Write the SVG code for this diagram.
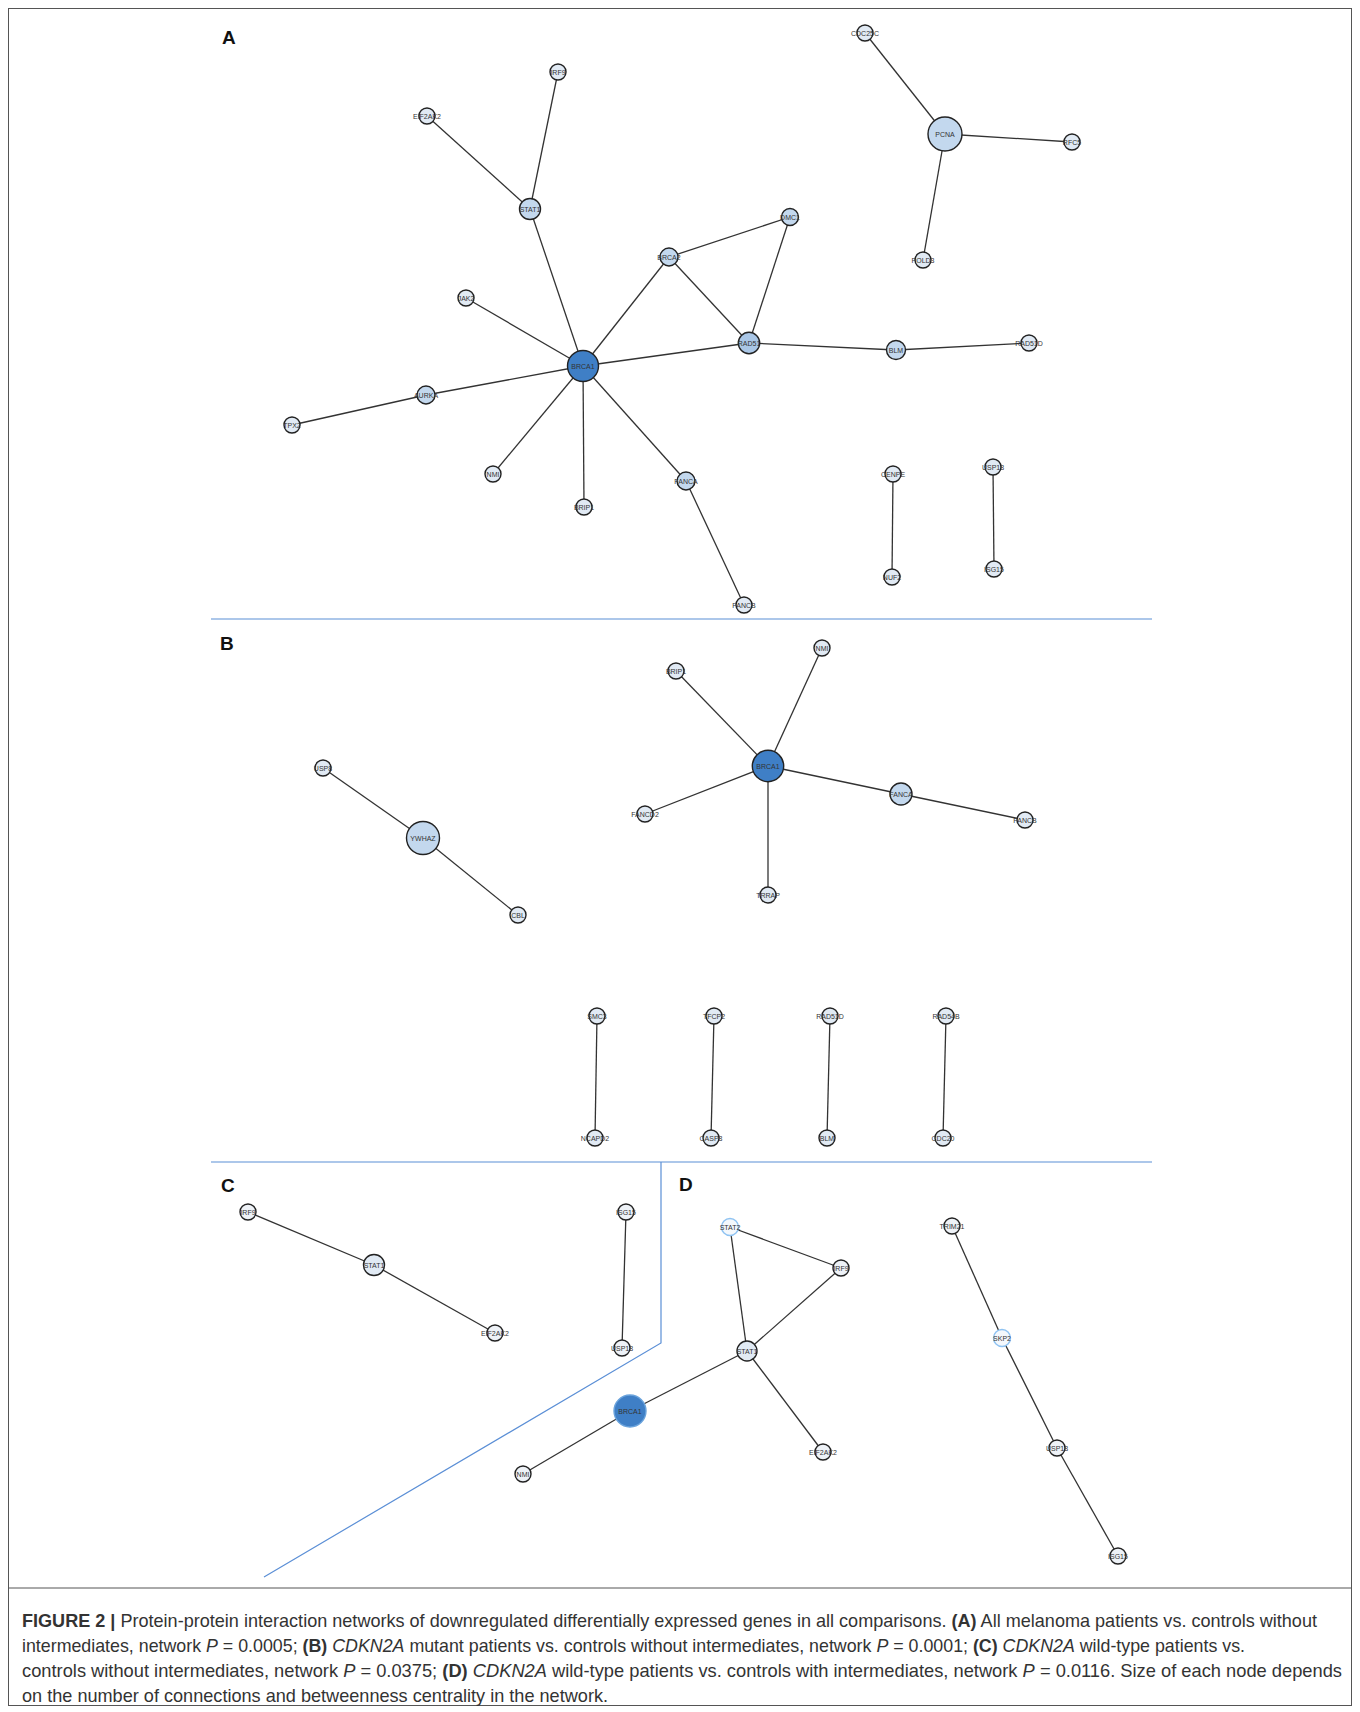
<svg xmlns="http://www.w3.org/2000/svg" width="1360" height="1712" viewBox="0 0 1360 1712">
<style>
.e{stroke:#333;stroke-width:1.3;fill:none}
.sep{stroke:#5b8fd6;stroke-width:1.2;fill:none}
circle{stroke:#222;stroke-width:1.4}
.s{fill:#e1eaf4}
.m{fill:#c3d8ee}
.r{fill:#a9c6e6}
.d{fill:#3f7fc6}
.w{fill:#eef2f7}
.lb{stroke:#8fc3f2;fill:#f4f8fc}
.dl{stroke:#6aa3dc}
.t{font-family:"Liberation Sans",Arial,sans-serif;font-size:7px;fill:#333;text-anchor:middle}
.P{font-family:"Liberation Sans",Arial,sans-serif;font-size:19px;font-weight:bold;fill:#111}
.c{font-family:"Liberation Sans",Arial,sans-serif;font-size:17.8px;fill:#333}
.b{font-weight:bold}
.i{font-style:italic}
</style>
<rect x="8.5" y="8.5" width="1343" height="1697" fill="#fff" stroke="#555" stroke-width="1"/>
<line x1="8.5" y1="1588" x2="1351.5" y2="1588" stroke="#555" stroke-width="1"/>
<g id="separators">
<line class="sep" x1="211" y1="619" x2="1152" y2="619"/>
<line class="sep" x1="211" y1="1162" x2="1152" y2="1162"/>
<polyline class="sep" points="661,1162 661,1343 264,1577"/>
</g>
<g id="panel-labels">
<text class="P" x="222" y="44">A</text>
<text class="P" x="220" y="650">B</text>
<text class="P" x="221" y="1192">C</text>
<text class="P" x="679" y="1191">D</text>
</g>
<g id="connectors">
<line class="e" x1="558" y1="72" x2="530" y2="209"/>
<line class="e" x1="427" y1="116" x2="530" y2="209"/>
<line class="e" x1="530" y1="209" x2="583" y2="366"/>
<line class="e" x1="669" y1="257" x2="790" y2="217"/>
<line class="e" x1="669" y1="257" x2="749" y2="343"/>
<line class="e" x1="790" y1="217" x2="749" y2="343"/>
<line class="e" x1="669" y1="257" x2="583" y2="366"/>
<line class="e" x1="466" y1="298" x2="583" y2="366"/>
<line class="e" x1="583" y1="366" x2="749" y2="343"/>
<line class="e" x1="749" y1="343" x2="896" y2="350"/>
<line class="e" x1="896" y1="350" x2="1029" y2="343"/>
<line class="e" x1="583" y1="366" x2="426" y2="395"/>
<line class="e" x1="426" y1="395" x2="292" y2="425"/>
<line class="e" x1="583" y1="366" x2="493" y2="474"/>
<line class="e" x1="583" y1="366" x2="584" y2="507"/>
<line class="e" x1="583" y1="366" x2="686" y2="481"/>
<line class="e" x1="686" y1="481" x2="744" y2="605"/>
<line class="e" x1="865" y1="33" x2="945" y2="134"/>
<line class="e" x1="945" y1="134" x2="1072" y2="142"/>
<line class="e" x1="945" y1="134" x2="923" y2="260"/>
<line class="e" x1="893" y1="474" x2="892" y2="577"/>
<line class="e" x1="993" y1="467" x2="994" y2="569"/>
<line class="e" x1="323" y1="768" x2="423" y2="838"/>
<line class="e" x1="423" y1="838" x2="518" y2="915"/>
<line class="e" x1="768" y1="766" x2="822" y2="648"/>
<line class="e" x1="768" y1="766" x2="676" y2="671"/>
<line class="e" x1="768" y1="766" x2="645" y2="814"/>
<line class="e" x1="768" y1="766" x2="901" y2="794"/>
<line class="e" x1="901" y1="794" x2="1025" y2="820"/>
<line class="e" x1="768" y1="766" x2="768" y2="895"/>
<line class="e" x1="597" y1="1016" x2="595" y2="1138"/>
<line class="e" x1="714" y1="1016" x2="711" y2="1138"/>
<line class="e" x1="830" y1="1016" x2="827" y2="1138"/>
<line class="e" x1="946" y1="1016" x2="943" y2="1138"/>
<line class="e" x1="248" y1="1212" x2="374" y2="1265"/>
<line class="e" x1="374" y1="1265" x2="495" y2="1333"/>
<line class="e" x1="626" y1="1212" x2="622" y2="1348"/>
<line class="e" x1="730" y1="1227" x2="841" y2="1268"/>
<line class="e" x1="730" y1="1227" x2="747" y2="1351"/>
<line class="e" x1="841" y1="1268" x2="747" y2="1351"/>
<line class="e" x1="747" y1="1351" x2="630" y2="1411"/>
<line class="e" x1="630" y1="1411" x2="523" y2="1474"/>
<line class="e" x1="747" y1="1351" x2="823" y2="1452"/>
<line class="e" x1="952" y1="1226" x2="1002" y2="1338"/>
<line class="e" x1="1002" y1="1338" x2="1057" y2="1448"/>
<line class="e" x1="1057" y1="1448" x2="1118" y2="1556"/>
</g>
<g id="A-IRF9"><circle class="s" cx="558" cy="72" r="8"/><text class="t" x="558" y="74.5">IRF9</text></g>
<g id="A-EIF2AK2"><circle class="s" cx="427" cy="116" r="8"/><text class="t" x="427" y="118.5">EIF2AK2</text></g>
<g id="A-STAT1"><circle class="m" cx="530" cy="209" r="10.5"/><text class="t" x="530" y="211.5">STAT1</text></g>
<g id="A-BRCA2"><circle class="m" cx="669" cy="257" r="9"/><text class="t" x="669" y="259.5">BRCA2</text></g>
<g id="A-DMC1"><circle class="m" cx="790" cy="217" r="8.5"/><text class="t" x="790" y="219.5">DMC1</text></g>
<g id="A-JAK2"><circle class="s" cx="466" cy="298" r="8"/><text class="t" x="466" y="300.5">JAK2</text></g>
<g id="A-BRCA1"><circle class="d" cx="583" cy="366" r="15.5"/><text class="t" x="583" y="368.5">BRCA1</text></g>
<g id="A-RAD51"><circle class="r" cx="749" cy="343" r="10.7"/><text class="t" x="749" y="345.5">RAD51</text></g>
<g id="A-BLM"><circle class="m" cx="896" cy="350" r="9.5"/><text class="t" x="896" y="352.5">BLM</text></g>
<g id="A-RAD51D"><circle class="s" cx="1029" cy="343" r="8"/><text class="t" x="1029" y="345.5">RAD51D</text></g>
<g id="A-AURKA"><circle class="m" cx="426" cy="395" r="9"/><text class="t" x="426" y="397.5">AURKA</text></g>
<g id="A-TPX2"><circle class="s" cx="292" cy="425" r="8"/><text class="t" x="292" y="427.5">TPX2</text></g>
<g id="A-NMI"><circle class="s" cx="493" cy="474" r="8"/><text class="t" x="493" y="476.5">NMI</text></g>
<g id="A-BRIP1"><circle class="s" cx="584" cy="507" r="8"/><text class="t" x="584" y="509.5">BRIP1</text></g>
<g id="A-FANCA"><circle class="m" cx="686" cy="481" r="9"/><text class="t" x="686" y="483.5">FANCA</text></g>
<g id="A-FANCB"><circle class="s" cx="744" cy="605" r="8"/><text class="t" x="744" y="607.5">FANCB</text></g>
<g id="A-CDC25C"><circle class="s" cx="865" cy="33" r="8"/><text class="t" x="865" y="35.5">CDC25C</text></g>
<g id="A-PCNA"><circle class="m" cx="945" cy="134" r="17"/><text class="t" x="945" y="136.5">PCNA</text></g>
<g id="A-RFC5"><circle class="s" cx="1072" cy="142" r="8"/><text class="t" x="1072" y="144.5">RFC5</text></g>
<g id="A-POLD3"><circle class="s" cx="923" cy="260" r="8"/><text class="t" x="923" y="262.5">POLD3</text></g>
<g id="A-CENPE"><circle class="s" cx="893" cy="474" r="8"/><text class="t" x="893" y="476.5">CENPE</text></g>
<g id="A-NUF2"><circle class="s" cx="892" cy="577" r="8"/><text class="t" x="892" y="579.5">NUF2</text></g>
<g id="A-USP18"><circle class="s" cx="993" cy="467" r="8"/><text class="t" x="993" y="469.5">USP18</text></g>
<g id="A-ISG15"><circle class="s" cx="994" cy="569" r="8"/><text class="t" x="994" y="571.5">ISG15</text></g>
<g id="B-USP8"><circle class="s" cx="323" cy="768" r="8"/><text class="t" x="323" y="770.5">USP8</text></g>
<g id="B-YWHAZ"><circle class="m" cx="423" cy="838" r="16.5"/><text class="t" x="423" y="840.5">YWHAZ</text></g>
<g id="B-CBL"><circle class="s" cx="518" cy="915" r="8"/><text class="t" x="518" y="917.5">CBL</text></g>
<g id="B-NMI"><circle class="s" cx="822" cy="648" r="8"/><text class="t" x="822" y="650.5">NMI</text></g>
<g id="B-BRIP1"><circle class="s" cx="676" cy="671" r="8"/><text class="t" x="676" y="673.5">BRIP1</text></g>
<g id="B-BRCA1"><circle class="d" cx="768" cy="766" r="15.7"/><text class="t" x="768" y="768.5">BRCA1</text></g>
<g id="B-FANCD2"><circle class="s" cx="645" cy="814" r="8"/><text class="t" x="645" y="816.5">FANCD2</text></g>
<g id="B-FANCA"><circle class="m" cx="901" cy="794" r="11"/><text class="t" x="901" y="796.5">FANCA</text></g>
<g id="B-FANCB"><circle class="s" cx="1025" cy="820" r="8"/><text class="t" x="1025" y="822.5">FANCB</text></g>
<g id="B-TRRAP"><circle class="s" cx="768" cy="895" r="8"/><text class="t" x="768" y="897.5">TRRAP</text></g>
<g id="B-SMC3"><circle class="s" cx="597" cy="1016" r="8"/><text class="t" x="597" y="1018.5">SMC3</text></g>
<g id="B-NCAPD2"><circle class="s" cx="595" cy="1138" r="8"/><text class="t" x="595" y="1140.5">NCAPD2</text></g>
<g id="B-TFCP2"><circle class="s" cx="714" cy="1016" r="8"/><text class="t" x="714" y="1018.5">TFCP2</text></g>
<g id="B-CASP8"><circle class="s" cx="711" cy="1138" r="8"/><text class="t" x="711" y="1140.5">CASP8</text></g>
<g id="B-RAD51D"><circle class="s" cx="830" cy="1016" r="8"/><text class="t" x="830" y="1018.5">RAD51D</text></g>
<g id="B-BLM"><circle class="s" cx="827" cy="1138" r="8"/><text class="t" x="827" y="1140.5">BLM</text></g>
<g id="B-RAD54B"><circle class="s" cx="946" cy="1016" r="8"/><text class="t" x="946" y="1018.5">RAD54B</text></g>
<g id="B-CDC20"><circle class="s" cx="943" cy="1138" r="8"/><text class="t" x="943" y="1140.5">CDC20</text></g>
<g id="C-IRF9"><circle class="w" cx="248" cy="1212" r="8"/><text class="t" x="248" y="1214.5">IRF9</text></g>
<g id="C-STAT1"><circle class="s" cx="374" cy="1265" r="10.5"/><text class="t" x="374" y="1267.5">STAT1</text></g>
<g id="C-EIF2AK2"><circle class="w" cx="495" cy="1333" r="8"/><text class="t" x="495" y="1335.5">EIF2AK2</text></g>
<g id="C-ISG15"><circle class="w" cx="626" cy="1212" r="8"/><text class="t" x="626" y="1214.5">ISG15</text></g>
<g id="C-USP18"><circle class="w" cx="622" cy="1348" r="8"/><text class="t" x="622" y="1350.5">USP18</text></g>
<g id="D-STAT2"><circle class="lb" cx="730" cy="1227" r="8.5"/><text class="t" x="730" y="1229.5">STAT2</text></g>
<g id="D-IRF9"><circle class="w" cx="841" cy="1268" r="8"/><text class="t" x="841" y="1270.5">IRF9</text></g>
<g id="D-STAT1"><circle class="s" cx="747" cy="1351" r="10"/><text class="t" x="747" y="1353.5">STAT1</text></g>
<g id="D-BRCA1"><circle class="d dl" cx="630" cy="1411" r="16"/><text class="t" x="630" y="1413.5">BRCA1</text></g>
<g id="D-NMI"><circle class="w" cx="523" cy="1474" r="8"/><text class="t" x="523" y="1476.5">NMI</text></g>
<g id="D-EIF2AK2"><circle class="w" cx="823" cy="1452" r="8"/><text class="t" x="823" y="1454.5">EIF2AK2</text></g>
<g id="D-TRIM21"><circle class="w" cx="952" cy="1226" r="8"/><text class="t" x="952" y="1228.5">TRIM21</text></g>
<g id="D-SKP2"><circle class="lb" cx="1002" cy="1338" r="8.5"/><text class="t" x="1002" y="1340.5">SKP2</text></g>
<g id="D-USP18"><circle class="w" cx="1057" cy="1448" r="8"/><text class="t" x="1057" y="1450.5">USP18</text></g>
<g id="D-ISG15"><circle class="w" cx="1118" cy="1556" r="8"/><text class="t" x="1118" y="1558.5">ISG15</text></g>
<g id="caption">
<text class="c" x="22" y="1627" textLength="1295" lengthAdjust="spacingAndGlyphs"><tspan class="b">FIGURE 2 |</tspan> Protein-protein interaction networks of downregulated differentially expressed genes in all comparisons. <tspan class="b">(A)</tspan> All melanoma patients vs. controls without</text>
<text class="c" x="22" y="1652" textLength="1223" lengthAdjust="spacingAndGlyphs">intermediates, network <tspan class="i">P</tspan> = 0.0005; <tspan class="b">(B)</tspan> <tspan class="i">CDKN2A</tspan> mutant patients vs. controls without intermediates, network <tspan class="i">P</tspan> = 0.0001; <tspan class="b">(C)</tspan> <tspan class="i">CDKN2A</tspan> wild-type patients vs.</text>
<text class="c" x="22" y="1677" textLength="1320" lengthAdjust="spacingAndGlyphs">controls without intermediates, network <tspan class="i">P</tspan> = 0.0375; <tspan class="b">(D)</tspan> <tspan class="i">CDKN2A</tspan> wild-type patients vs. controls with intermediates, network <tspan class="i">P</tspan> = 0.0116. Size of each node depends</text>
<text class="c" x="22" y="1702" textLength="586" lengthAdjust="spacingAndGlyphs">on the number of connections and betweenness centrality in the network.</text>
</g>
</svg>
